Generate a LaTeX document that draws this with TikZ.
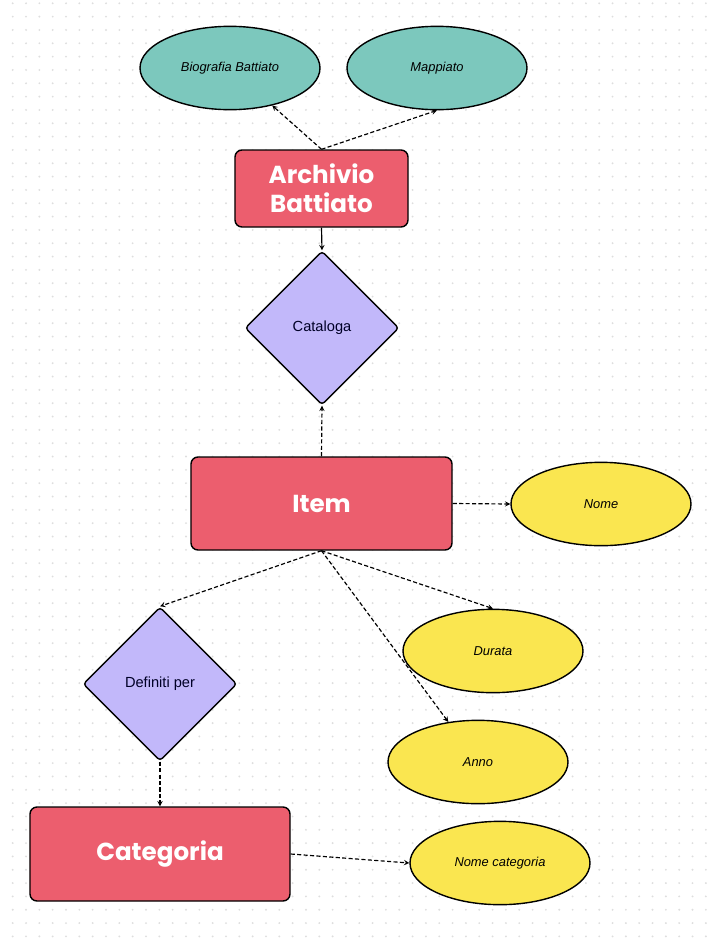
\documentclass[tikz,border=0pt]{standalone}
\usepackage{fontspec}
\setmainfont{Liberation Sans}
\newfontfamily\titlefont{Poppins}
\usepackage{tikz}
\usetikzlibrary{shapes.geometric}

\definecolor{tealfill}{RGB}{124,200,189}
\definecolor{redfill}{RGB}{236,94,110}
\definecolor{lilacfill}{RGB}{194,184,250}
\definecolor{yellowfill}{RGB}{250,230,80}
\definecolor{dotgray}{RGB}{222,222,222}

\begin{document}
\begin{tikzpicture}[x=0.03cm,y=-0.03cm,
  entity/.style={draw=black,line width=1.2pt,fill=redfill,rounded corners=6pt,
    text=white,font=\titlefont\bfseries\fontsize{21}{24.6}\selectfont,align=center},
  relation/.style={diamond,draw=black,line width=1.2pt,fill=lilacfill,rounded corners=3pt,
    minimum size=4.62cm,inner sep=0pt,text=black!85!blue,font=\fontsize{12.5}{14}\selectfont},
  attr/.style={ellipse,draw=black,line width=1.2pt,minimum width=5.4cm,minimum height=2.5cm,
    inner sep=0pt,font=\itshape\fontsize{11}{13}\selectfont},
  link/.style={->,>=stealth,line width=1pt,dash pattern=on 3.5pt off 2pt}]
  \useasboundingbox (0,0) rectangle (715,943);
  % dotted canvas
  \foreach \i in {0,...,53}{
  \foreach \j in {0,...,70}{
  \fill[dotgray] ({12.7+13.33*\i},{3.3+13.33*\j}) circle (0.9pt);
  }
  }
  % attributes
  \node[attr,fill=tealfill] (bio) at (230,68) {Biografia Battiato};
  \node[attr,fill=tealfill] (mapp) at (437,68) {Mappiato};
  \node[attr,fill=yellowfill] (nome) at (601,504) {Nome};
  \node[attr,fill=yellowfill] (durata) at (493,651) {Durata};
  \node[attr,fill=yellowfill] (anno) at (478,762) {Anno};
  \node[attr,fill=yellowfill] (nomecat) at (500,863) {Nome categoria};
  % entities
  \node[entity,minimum width=5.19cm,minimum height=2.31cm] (archivio) at (321.5,188.5) {Archivio\\Battiato};
  \node[entity,minimum width=7.83cm,minimum height=2.79cm] (item) at (321.5,503.5) {Item};
  \node[entity,minimum width=7.8cm,minimum height=2.82cm] (categoria) at (160,854) {Categoria};
  % relations
  \node[relation] (cataloga) at (322,328) {Cataloga};
  \node[relation] (definiti) at (160,684) {Definiti per};
  % connectors
  \draw[link] (archivio.north) -- (bio);
  \draw[link] (archivio.north) -- (mapp.south);
  \draw[->,>=stealth,line width=1pt] (archivio.south) -- (cataloga.north);
  \draw[link] (item.north) -- (cataloga.south);
  \draw[link] (item.east) -- (nome.west);
  \draw[link] (item.south) -- (definiti.north);
  \draw[link] (item.south) -- (durata.north);
  \draw[link] (item.south) -- (anno);
  \draw[link] (definiti.south) -- (categoria.north);
  \draw[link] (categoria.east) -- (nomecat.west);
\end{tikzpicture}
\end{document}
